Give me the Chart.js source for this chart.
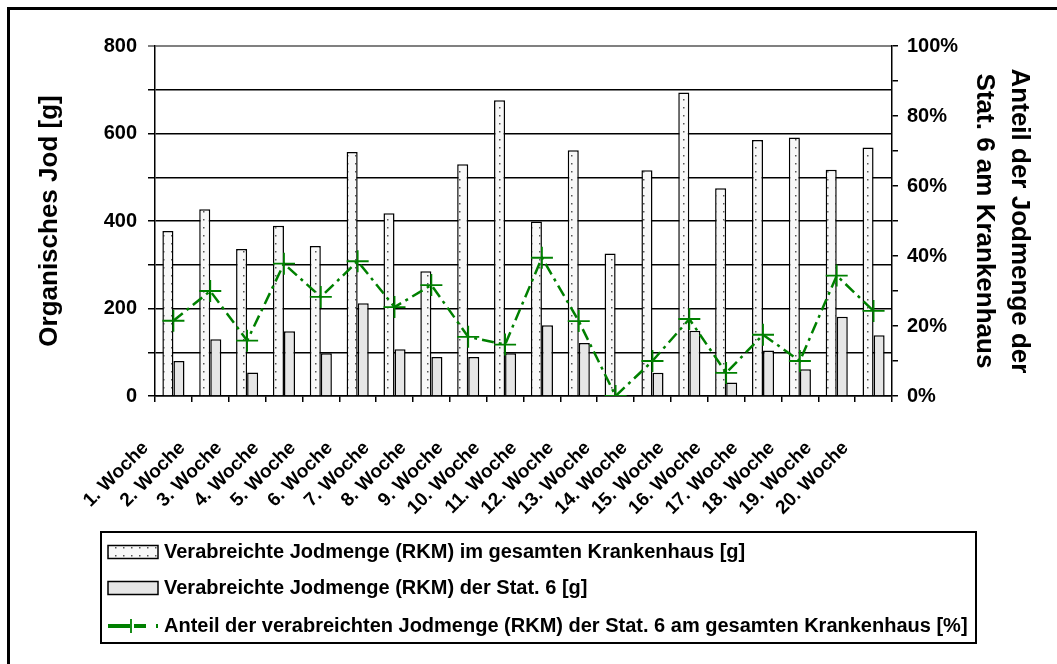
<!DOCTYPE html>
<html>
<head>
<meta charset="utf-8">
<script src="https://cdn.jsdelivr.net/npm/chart.js@4.4.0/dist/chart.umd.min.js"></script>
<style>
  body { margin: 0; background: #fff; }
  canvas { display: block; }
</style>
</head>
<body>
<canvas id="myChart" width="1057" height="664"></canvas>
<script>
var weeks = ['1. Woche', '2. Woche', '3. Woche', '4. Woche', '5. Woche', '6. Woche', '7. Woche',
    '8. Woche', '9. Woche', '10. Woche', '11. Woche', '12. Woche', '13. Woche', '14. Woche',
    '15. Woche', '16. Woche', '17. Woche', '18. Woche', '19. Woche', '20. Woche'];
var hospital = [377, 427, 336, 389, 343, 558, 418, 285, 530, 676, 399, 562, 326, 516, 694, 475, 585, 591, 517, 568];
var station = [80, 130, 54, 148, 98, 212, 107, 89, 89, 98, 162, 121, 0, 53, 149, 31, 104, 61, 181, 139];
var share = [21.5, 30.0, 15.8, 37.8, 28.3, 38.5, 25.4, 31.7, 16.9, 14.7, 39.5, 21.4, 0, 10.0, 22.0, 6.6, 17.5, 10.0, 34.4, 24.3];
var leftTicks = [0, 200, 400, 600, 800];
var rightTicks = [0, 20, 40, 60, 80, 100];

var labelHospital = 'Verabreichte Jodmenge (RKM) im gesamten Krankenhaus [g]';
var labelStation = 'Verabreichte Jodmenge (RKM) der Stat. 6 [g]';
var labelShare = 'Anteil der verabreichten Jodmenge (RKM) der Stat. 6 am gesamten Krankenhaus [%]';

var FONT = '"Liberation Sans", Arial, sans-serif';
var GREEN = '#008000';

// dotted fill for the hospital bars
function dotPattern() {
    var c = document.createElement('canvas');
    c.width = 8;
    c.height = 8;
    var p = c.getContext('2d');
    p.fillStyle = '#f8f8f8';
    p.fillRect(0, 0, 8, 8);
    p.fillStyle = '#555';
    p.fillRect(3, 3, 1.5, 1.5);
    return p.createPattern(c, 'repeat');
}
var dots = dotPattern();

Chart.defaults.font.family = FONT;
Chart.defaults.font.weight = 'bold';
Chart.defaults.color = '#000';

// outer frame + white background
var framePlugin = {
    id: 'frame',
    beforeDraw: function (chart) {
        var ctx = chart.ctx;
        ctx.save();
        ctx.fillStyle = '#fff';
        ctx.fillRect(0, 0, chart.width, chart.height);
        ctx.restore();
    },
    afterDraw: function (chart) {
        var ctx = chart.ctx;
        ctx.save();
        ctx.strokeStyle = '#000';
        ctx.lineWidth = 3;
        ctx.strokeRect(8.5, 8.5, chart.width + 20, chart.height + 20);
        ctx.restore();
    }
};

// boxed legend, one entry per row
var legendPlugin = {
    id: 'boxLegend',
    afterDraw: function (chart) {
        var ctx = chart.ctx;
        var ds = chart.data.datasets;
        var left = 101, top = 532, right = 976, bottom = 643;
        var rows = [552, 588, 626];
        ctx.save();
        ctx.strokeStyle = '#000';
        ctx.lineWidth = 2;
        ctx.strokeRect(left, top, right - left, bottom - top);

        // row 1: dotted swatch
        ctx.fillStyle = dots;
        ctx.fillRect(108, rows[0] - 6.5, 50, 13);
        ctx.lineWidth = 1.5;
        ctx.strokeRect(108, rows[0] - 6.5, 50, 13);
        // row 2: grey swatch
        ctx.fillStyle = '#e6e6e6';
        ctx.fillRect(108, rows[1] - 6.5, 50, 13);
        ctx.strokeRect(108, rows[1] - 6.5, 50, 13);
        // row 3: dashed green line with cross
        ctx.strokeStyle = GREEN;
        ctx.lineWidth = 4;
        ctx.setLineDash([22, 4, 12, 10, 2, 50]);
        ctx.beginPath();
        ctx.moveTo(108, rows[2]);
        ctx.lineTo(160, rows[2]);
        ctx.stroke();
        ctx.setLineDash([]);
        ctx.lineWidth = 1.8;
        ctx.beginPath();
        ctx.moveTo(131, rows[2] - 7);
        ctx.lineTo(131, rows[2] + 7);
        ctx.stroke();

        ctx.fillStyle = '#000';
        ctx.font = 'bold 20px ' + FONT;
        ctx.textAlign = 'left';
        ctx.textBaseline = 'middle';
        ctx.fillText(ds[1].label, 164, rows[0]);
        ctx.fillText(ds[2].label, 164, rows[1]);
        ctx.fillText(ds[0].label, 164, rows[2]);
        ctx.restore();
    }
};

var ctx = document.getElementById('myChart').getContext('2d');
var myChart = new Chart(ctx, {
    type: 'bar',
    data: {
        labels: weeks,
        datasets: [{
            type: 'line',
            label: labelShare,
            data: share,
            yAxisID: 'y1',
            order: 0,
            borderColor: GREEN,
            borderWidth: 2.5,
            borderDash: [12, 5, 3, 5],
            fill: false,
            tension: 0,
            pointStyle: 'cross',
            pointRadius: 11,
            pointBorderWidth: 1.8,
            pointBorderColor: GREEN,
            pointBackgroundColor: GREEN
        }, {
            label: labelHospital,
            data: hospital,
            yAxisID: 'y',
            order: 1,
            backgroundColor: dots,
            borderColor: '#000',
            borderWidth: 1.5,
            barPercentage: 1,
            categoryPercentage: 0.6
        }, {
            label: labelStation,
            data: station,
            yAxisID: 'y',
            order: 1,
            backgroundColor: '#e6e6e6',
            borderColor: '#000',
            borderWidth: 1.5,
            barPercentage: 1,
            categoryPercentage: 0.6
        }]
    },
    options: {
        responsive: false,
        animation: false,
        layout: { padding: { top: 46, bottom: 138, left: 0, right: 0 } },
        plugins: {
            legend: { display: false },
            tooltip: { enabled: false }
        },
        scales: {
            x: {
                grid: {
                    offset: true,
                    drawOnChartArea: false,
                    drawTicks: true,
                    tickLength: 6,
                    color: '#000',
                    lineWidth: 1.5
                },
                border: { color: '#000', width: 1.5 },
                ticks: {
                    font: { size: 19, weight: 'bold' },
                    maxRotation: 45,
                    minRotation: 45,
                    autoSkip: false,
                    padding: 35,
                    labelOffset: -28
                },
                afterFit: function (scale) { scale.height = 130; }
            },
            y: {
                position: 'left',
                min: 0,
                max: 800,
                grid: {
                    color: function (c) { return c.tick && c.tick.value === 800 ? '#808080' : '#000'; },
                    lineWidth: function (c) { return c.tick && c.tick.value === 800 ? 2 : 1.5; },
                    tickLength: 7
                },
                border: { color: '#000', width: 1.5 },
                ticks: {
                    stepSize: 100,
                    padding: 11,
                    font: { size: 20, weight: 'bold' },
                    callback: function (v) { return leftTicks.indexOf(v) >= 0 ? String(v) : ''; }
                },
                title: {
                    display: true,
                    text: 'Organisches Jod [g]',
                    font: { size: 26, weight: 'bold' },
                    padding: { top: 34, bottom: 0 }
                },
                afterFit: function (scale) { scale.width = 155; }
            },
            y1: {
                position: 'right',
                min: 0,
                max: 100,
                grid: {
                    drawOnChartArea: false,
                    color: '#000',
                    lineWidth: 1.5,
                    tickLength: 6
                },
                border: { color: '#000', width: 1.5 },
                ticks: {
                    stepSize: 10,
                    padding: 9,
                    font: { size: 20, weight: 'bold' },
                    callback: function (v) { return rightTicks.indexOf(v) >= 0 ? v + '%' : ''; }
                },
                title: {
                    display: true,
                    text: ['Anteil der Jodmenge der', 'Stat. 6 am Krankenhaus'],
                    font: { size: 26, weight: 'bold', lineHeight: 1.35 },
                    padding: { top: 20, bottom: 0 }
                },
                afterFit: function (scale) { scale.width = 165; }
            }
        }
    },
    plugins: [framePlugin, legendPlugin]
});
</script>
</body>
</html>
